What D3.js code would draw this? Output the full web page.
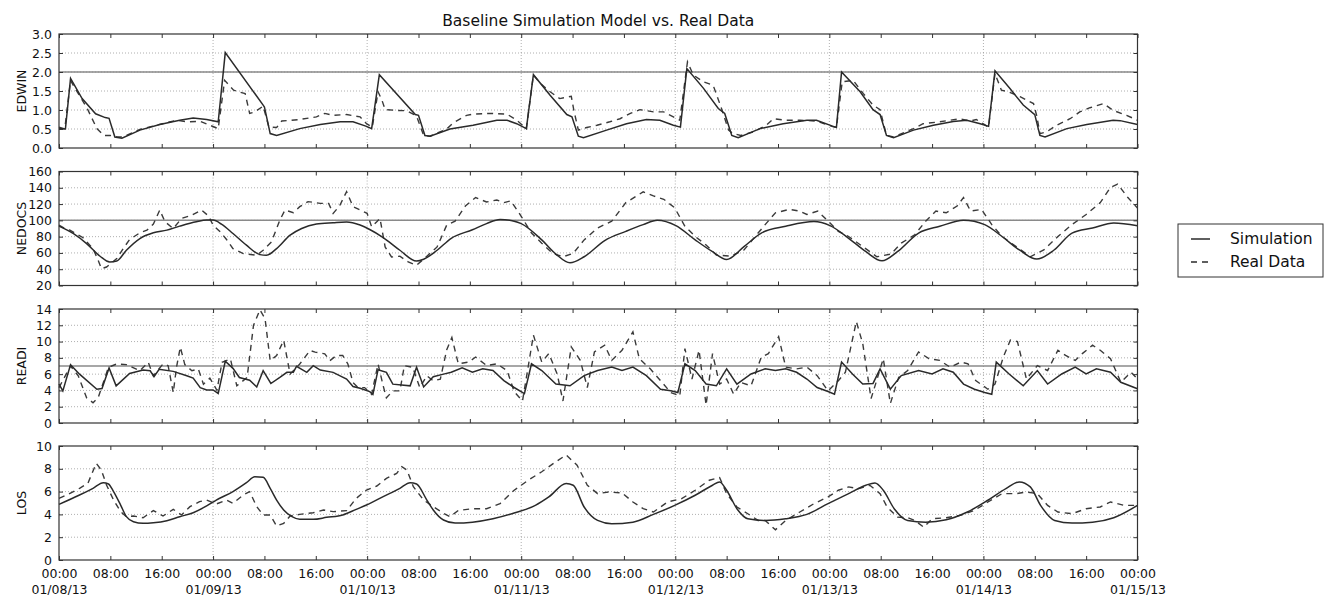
<!DOCTYPE html>
<html>
<head>
<meta charset="utf-8">
<script src="https://cdn.jsdelivr.net/npm/d3@7"></script>
<style>
body { margin: 0; background: #fff; }
text { font-family: "DejaVu Sans", sans-serif; fill: #111; }
</style>
</head>
<body>
<svg id="chart"></svg>
<script>
// [hour since 01/08/13 00:00, value]
var edwinSim = [[0,0.51],[1,0.5],[1.8,1.83],[3.6,1.30],[5.7,0.9],[7.2,0.8],[7.8,0.78],[8.7,0.29],[9.8,0.26],[12.6,0.47],[15.7,0.62],[18.8,0.73],[20.9,0.79],[23,0.75],[24.8,0.69],
  [25.9,2.51],[31.8,1.13],[32,1.08],[32.9,0.38],[33.9,0.33],[37.5,0.51],[40.7,0.62],[43.8,0.69],[45.8,0.69],[47.9,0.57],[48.7,0.51],
  [49.9,1.93],[55.5,0.88],[56,0.86],[57,0.33],[57.8,0.31],[60.9,0.5],[64.5,0.6],[68.2,0.73],[69.8,0.73],[71.3,0.64],[72.8,0.51],
  [73.9,1.93],[76.5,1.39],[79.1,0.88],[79.9,0.82],[80.9,0.31],[81.7,0.27],[85.3,0.47],[88.4,0.64],[91.5,0.75],[93.6,0.73],[95.7,0.6],[96.8,0.55],
  [97.8,2.09],[100.4,1.57],[102.7,1.04],[103.7,0.91],[104.8,0.33],[105.8,0.27],[109.2,0.51],[112.8,0.64],[116.5,0.73],[118,0.73],[120.6,0.57],[121.1,0.54],
  [121.9,2.0],[124.8,1.48],[126.8,1.01],[127.9,0.88],[128.9,0.33],[130,0.27],[133.1,0.47],[136.2,0.6],[139.3,0.7],[141.4,0.73],[143.5,0.64],[144.8,0.57],
  [145.8,2.03],[148.1,1.57],[150.2,1.13],[152,0.88],[152.8,0.33],[153.6,0.29],[157,0.51],[160.1,0.62],[164.2,0.73],[165.3,0.72],[168,0.62]];
var edwinReal = [[0,0.55],[0.9,0.5],[1.8,1.78],[2.4,1.6],[4.4,1.04],[5.9,0.51],[7,0.33],[8,0.33],[9,0.29],[10,0.29],[12.6,0.49],[15.2,0.6],[18.3,0.73],[19.9,0.69],[22,0.7],[24.8,0.51],
  [25.8,1.78],[27.2,1.52],[29,1.43],[29.7,0.91],[30.5,0.95],[31.8,1.1],[32.7,0.55],[33.9,0.54],[34.7,0.71],[37.5,0.75],[40.1,0.82],[41.4,0.91],[42.7,0.86],[44.8,0.88],[46.9,0.82],[47.9,0.64],[48.8,0.55],
  [49.7,1.48],[50.3,1.26],[50.8,1.01],[52.6,0.99],[54.2,0.98],[55.7,0.84],[56.8,0.33],[57.8,0.31],[60.4,0.5],[61.4,0.66],[63.5,0.86],[64.5,0.89],[67.2,0.91],[69.8,0.89],[71.3,0.73],[72.8,0.51],
  [73.9,1.92],[75,1.7],[76.5,1.48],[78,1.3],[79.8,1.36],[80.2,0.99],[80.9,0.47],[82.2,0.54],[83.8,0.6],[85.8,0.69],[87.4,0.77],[89,0.91],[90.5,1.01],[92.6,0.95],[94.2,0.95],[95.7,0.82],[96.7,0.73],
  [97.9,2.27],[98.8,1.92],[100.4,1.74],[101.9,1.65],[103.2,1.04],[104.3,0.47],[105,0.38],[106.2,0.33],[108.1,0.42],[110.2,0.6],[111.3,0.77],[113.3,0.73],[115.4,0.73],[118,0.71],[120.4,0.57],[121.1,0.54],
  [122,1.74],[123.7,1.78],[125.3,1.43],[126.8,1.13],[127.9,1.01],[128.9,0.33],[130,0.29],[133.1,0.51],[134.6,0.64],[137.2,0.69],[140.3,0.77],[141.9,0.71],[142.9,0.75],[144.8,0.55],
  [145.8,1.96],[146.8,1.52],[147.9,1.48],[149.7,1.35],[151.8,1.17],[152.3,0.85],[152.8,0.38],[153.8,0.42],[155.4,0.6],[157.5,0.77],[159,0.95],[160.6,1.06],[162.7,1.17],[164.2,0.99],[166.3,0.86],[168,0.73]];

var nedocsSim = [[0,93],[2.2,83.9],[4.3,71.5],[6.4,55.9],[7.9,48.9],[9,50.1],[10.5,63.3],[12.6,77.7],[14.7,84.7],[16.8,88],[18.8,92.9],[21.4,98.3],[23,100.3],[24,100.3],[25.3,95.4],[27.1,83.9],[29.2,69.5],[31.3,57.9],[32.3,57.1],[33.9,65.3],[36,81.8],[37.8,90],[40.1,95.4],[42.7,97],[44.8,97.9],[46.9,94.2],[48.4,88.8],[50.5,78.9],[53.1,63.3],[55.7,50],[56.8,52.2],[58.9,63.3],[61.1,78],[64.4,88.5],[66.6,96],[68.7,101],[70.9,99],[72,96],
  [75.2,76],[77.4,58.6],[79.6,47.8],[81.8,55.3],[85,75.2],[88.3,86.5],[91,94.8],[93.2,100.2],[96.1,93.5],
  [99.1,76],[101.8,61.5],[104,52],[106.7,67.8],[109.4,84.4],[113.2,92.7],[117.6,98.5],[120.1,93.5],
  [123,78],[125.7,61.5],[128.2,50.3],[130.6,61.5],[133.9,84.4],[137.2,92.7],[140.9,100.2],[144.2,94.8],
  [146.9,80.2],[149.6,63.6],[152.3,52.4],[155,63.6],[157.8,84.4],[161,90.6],[164.3,96.9],[168,93.5]];
var nedocsReal = [[0,94.2],[0.9,90],[1.7,88],[3.7,79],[5.3,65.3],[6.1,51],[6.6,40.7],[7.4,42.7],[9,53],[10,65.3],[11,76.5],[12.6,84.7],[13.7,88],[14.7,95.4],[15.7,112.7],[16.5,98.3],[17.8,90],[19.1,102.4],[20.7,106.5],[22.2,112.7],[23.3,105.3],[24,94.2],[25.1,86],[26.1,76.5],[27.1,65.3],[28.7,59.2],[30.8,57.1],[31.8,63.3],[33.1,73.6],[34.4,100.3],[35.2,112.7],[36.5,109.4],[37.5,116.8],[38.8,123],[40.7,120.9],[42,120.9],[42.7,108.6],[43.7,117.6],[44.8,135.3],[45.8,116.8],[46.9,112.7],[48,108.6],[48.7,92.1],[49.5,98.3],[50,102.4],[50.8,67.4],[51.8,55],[53.1,55.9],[54.4,48.9],[55.7,44.8],[57.3,55.9],[58.9,67.4],[60.4,94.2],
  [61.7,99],[63.3,117.6],[64.9,128],[66.6,122.6],[68.2,125],[69.3,121.8],[70.4,123.9],[72,105],[73.6,84.4],[75.2,72],[76.9,59.5],[78.5,55.3],[80.1,59.5],[81.8,76],[83.9,90.6],[86.1,99],[88.3,121.8],[91,135],[92.6,130],[94.2,125.9],[95.9,115.5],[97.5,92.7],[99.1,80.2],[100.8,69.8],[102.4,57.4],[104.6,56],[106.7,63.6],[108.9,84.4],[110,94.8],[111.6,109.3],[113.8,113.5],[115.4,111.4],[116.5,107.2],[118.2,111.4],[119.8,99],[121.4,86.5],[123,80.2],[125.2,67.8],[127.4,55.3],[129.6,58.6],[131.2,72],[133.3,82.3],[135,99],[136.6,111.4],[138.2,109.3],[139.9,117.6],[140.9,128],[142,111.4],[143.7,113.5],[145.3,94.8],[146.9,80.2],[149.1,67.8],[151.3,55.3],[153.4,63.6],[155.6,80.2],[157.8,94.8],[160,107.2],[162.2,121.8],[163.8,140.5],[164.9,144.6],[166.5,128],[168,115]];

var readiSim = [[0,4.77],[0.6,3.94],[1.8,7.17],[3.2,6.0],[5.9,4.14],[6.7,4.23],[7.8,6.75],[8.9,4.56],[11,6.09],[13.1,6.5],[14.2,6.42],[14.8,5.68],[15.6,6.59],[17.8,6.34],[19.9,5.8],[20.9,5.51],[22,4.35],[23,4.06],[24,4.06],[24.8,3.61],[25.9,7.58],[27.1,6.71],[28.1,5.59],[29.7,5.26],[30.8,4.43],[31.8,6.42],[33,4.85],[34.4,5.59],[35.5,6.22],[36.5,6.22],[37,6.96],[38.6,6.22],[39.6,7.04],[40.7,6.5],[42.7,6.22],[44.8,5.39],[45.8,4.48],[46.9,4.27],[48.4,3.86],[48.9,3.52],[49.7,6.55],[51,6.22],[52,4.77],[54.7,4.56],[55.7,6.84],[56.8,4.43],[58.3,5.68],[59.9,6.0],[61.1,6.23],[62.8,6.77],[64.4,6.23],[66,6.65],[67.6,6.44],[69.3,5.2],[70.9,4.36],[72.5,3.61],[73.6,7.27],[75.2,6.44],[77.4,4.78],[79.6,4.57],[81.8,5.82],[83.9,6.44],[86.1,6.86],[87.7,6.44],[89.4,6.86],[91.5,5.82],[93.7,4.15],[95.3,3.95],[96.4,3.74],[97.5,7.27],[99.1,6.44],[100.8,4.78],[102.4,4.57],[104,6.65],[105.6,4.78],[107.8,6.02],[110,6.65],[111.6,6.44],[113.2,6.65],[114.9,6.23],[116.5,5.4],[118.1,4.36],[119.8,3.86],[120.8,3.53],[121.9,7.48],[123.6,6.02],[125.2,4.78],[126.8,4.86],[127.9,6.65],[129.5,4.15],[131.2,5.82],[133.9,6.44],[136,6.02],[137.7,6.65],[139.3,6.23],[140.9,4.78],[142.6,4.15],[144.2,3.74],[145.3,3.53],[146,7.48],[148,6.02],[150.2,4.57],[152.4,6.44],[154,4.78],[156.2,6.02],[158.3,6.86],[160,6.02],[161.6,6.65],[163.8,6.23],[165.4,5.0],[168,4.2]];
var readiReal = [[0,4.35],[1.8,7.0],[3,5.8],[4.3,3.1],[5.3,2.49],[6.1,3.1],[7.7,6.84],[9,7.25],[10.5,7.17],[12.6,6.42],[13.9,7.46],[14.7,5.8],[16.2,7.25],[17,7.04],[17.8,3.73],[18.3,6.84],[18.9,9.32],[19.6,7.17],[20.7,6.42],[21.7,6.63],[22.5,4.77],[23.5,5.51],[24.6,4.02],[25.4,7.46],[26.7,7.87],[27.7,4.56],[29.3,5.59],[30.3,12.0],[31.3,13.9],[32.1,12.8],[32.9,7.66],[33.9,8.29],[35,10.15],[36,6.0],[37.5,7.25],[39.1,8.91],[39.9,8.7],[41.4,8.49],[42.2,7.66],[43.2,8.29],[44.2,8.29],[45,7.25],[45.8,4.97],[46.6,4.35],[47.6,4.35],[48.7,3.52],[49.7,7.25],[50.5,4.56],[51,3.1],[52,3.94],[53.1,3.94],[53.8,7.04],[55.1,6.84],[56.2,4.35],[57.3,5.8],[58.3,5.18],[59.4,5.39],[60.4,9.0],[61.2,10.5],[62.2,7.27],[63.8,7.48],[64.9,8.1],[66.6,7.06],[68.2,7.27],[69.8,6.44],[70.9,3.86],[72.2,2.7],[73.9,10.8],[75.2,7.48],[76.3,8.52],[77.6,6.02],[78.5,2.7],[79.8,9.35],[81.2,7.69],[82.3,4.36],[83.4,8.72],[85,9.55],[86.1,7.69],[87.7,8.93],[89.4,11.2],[90.4,7.9],[92.1,6.65],[93.7,5.2],[95.3,3.74],[96.7,3.32],[97.5,9.14],[98.6,5.4],[99.7,8.93],[100.8,2.2],[101.8,8.52],[102.9,4.78],[104,5.4],[105.1,3.53],[106.2,4.98],[107.8,4.57],[109.4,8.1],[110.5,8.52],[112.1,10.6],[113.2,6.86],[114.9,6.65],[116.5,6.86],[118.1,5.82],[119.8,3.95],[121.4,5.2],[122.5,6.23],[124.2,12.46],[125.2,9.76],[126.5,3.0],[127.6,5.82],[128.4,7.9],[129.5,2.4],[130.8,5.6],[132.2,6.44],[133.9,8.72],[135.5,7.9],[137.2,7.69],[138.8,6.86],[140.5,7.48],[141.6,7.27],[142.8,5.2],[144.7,4.15],[145.8,4.78],[147.1,8.1],[148.2,10.2],[149.3,10.0],[150.7,5.4],[152.4,7.06],[154,6.44],[155.6,8.93],[156.8,8.3],[158.3,7.69],[159.4,8.52],[161,9.55],[162.2,8.93],[163.8,7.9],[165.4,5.0],[167,6.23],[168,5.4]];

var losSim = [[0,4.88],[3.2,5.7],[5.3,6.29],[6.9,6.78],[7.7,6.67],[8.5,6.0],[9.6,4.82],[10.5,3.8],[11.6,3.36],[13.1,3.22],[14.7,3.27],[16.8,3.45],[18.8,3.8],[20.9,4.15],[23,4.74],[24.5,5.26],[27.1,6.0],[29.2,6.78],[30.5,7.31],[31.8,7.25],[32.9,6.29],[33.9,5.26],[35,4.39],[36.3,3.8],[37.5,3.57],[39.6,3.57],[41.7,3.74],[44.2,3.95],[46.3,4.44],[47.9,4.82],[50.5,5.56],[53.1,6.29],[54.7,6.78],[55.7,6.67],[57.3,5.26],[58.3,4.39],[59.9,3.51],[61.7,3.24],[64.4,3.32],[67.6,3.62],[70.9,4.12],[74.2,4.79],[76.3,5.53],[79,6.71],[80.1,6.56],[81.8,4.65],[83.9,3.47],[86.1,3.18],[89.4,3.32],[92.6,4.0],[95.9,4.79],[99.1,5.68],[101.8,6.56],[102.9,6.85],[104,6.12],[105.6,4.5],[107.3,3.62],[110,3.47],[113.2,3.62],[116.5,4.0],[119.8,4.94],[123,5.82],[125.7,6.56],[127.1,6.76],[128.4,6.12],[130.1,4.5],[132.2,3.47],[135,3.32],[138.2,3.53],[141.5,4.21],[144.7,5.24],[147.5,6.26],[149.6,6.85],[151.3,6.41],[152.9,4.79],[155.1,3.47],[157.8,3.24],[161,3.32],[164.3,3.71],[168,4.79]];
var losReal = [[0,5.41],[1.2,5.7],[3.2,6.29],[4.5,6.73],[5.8,8.48],[6.6,7.89],[7.4,6.58],[8.5,5.26],[9.6,4.24],[10.5,3.8],[11.6,3.86],[13.1,3.71],[14.7,4.33],[16.2,3.86],[17.8,4.44],[19.1,3.95],[20.4,4.68],[21.9,5.12],[23,5.26],[24.5,4.91],[26.1,5.26],[27.1,4.97],[28.7,5.7],[29.7,6.0],[30.8,4.68],[31.8,3.95],[32.9,3.95],[33.9,2.98],[35,3.22],[36,3.86],[37.5,4.0],[39.6,4.15],[41.2,4.39],[42.7,4.24],[44.8,4.33],[46.3,5.41],[47.9,6.14],[49.5,6.49],[51,7.16],[52.6,7.6],[53.4,8.19],[54.2,7.89],[55.2,6.43],[56.8,5.26],[58.3,4.68],[59.9,4.09],[60.9,3.8],[62.2,4.35],[64.4,4.5],[66.6,4.5],[68.7,4.94],[70.9,6.12],[73.1,7.0],[75.2,7.74],[77.4,8.62],[79,9.21],[80.7,8.32],[82.3,6.56],[83.9,5.82],[85.6,5.97],[87.7,5.88],[89.4,5.09],[91,4.5],[92.6,4.21],[94.8,5.09],[97,5.38],[99.1,6.12],[101.3,7.0],[102.9,7.24],[104,5.82],[105.6,4.65],[107.3,4.06],[108.9,3.47],[110,3.47],[111.6,2.65],[113.2,3.47],[115.4,4.21],[117.6,4.94],[119.8,5.53],[121.4,6.12],[123,6.41],[124.6,6.26],[126.3,6.56],[127.9,5.82],[129,4.65],[130.6,3.76],[132.2,3.71],[133.3,3.47],[134.7,2.88],[136,3.62],[138.2,3.71],[140.4,3.91],[142.6,4.35],[144.7,5.09],[146.9,5.82],[149.1,5.82],[150.7,5.97],[152.4,5.82],[154,4.79],[155.6,4.21],[157.8,4.06],[160,4.5],[162.2,4.65],[163.8,5.09],[165.9,4.79],[168,4.79]];

var panelNames = ['EDWIN', 'NEDOCS', 'READI', 'LOS'];
var yDomains = [[0, 3], [20, 160], [0, 14], [0, 10]];
var yTicks = [[0, 0.5, 1, 1.5, 2, 2.5, 3], [20, 40, 60, 80, 100, 120, 140, 160], [0, 2, 4, 6, 8, 10, 12, 14], [0, 2, 4, 6, 8, 10]];
var yFormats = ['.1f', 'd', 'd', 'd'];
var thresholds = [2, 100, 7, null];
var simSeries = [edwinSim, nedocsSim, readiSim, losSim];
var realSeries = [edwinReal, nedocsReal, readiReal, losReal];
var smoothSim = [false, true, false, true];
var legendLabels = ['Simulation', 'Real Data'];

var W = 1330, H = 595;
var left = 59, right = 1137.5;
var panelTop = [34, 171.5, 309, 446], panelH = 114;
var t0 = new Date(2013, 0, 8), t1 = new Date(2013, 0, 15);

var svg = d3.select('#chart').attr('width', W).attr('height', H);

var x = d3.scaleTime().domain([t0, t1]).range([left, right]);
var dayTicks = d3.timeDay.range(t0, new Date(2013, 0, 15, 1));
var hourTicks = d3.timeHour.every(8).range(t0, new Date(2013, 0, 15, 1));

function toDate(h) { return new Date(t0.getTime() + h * 3600000); }

svg.append('text')
  .attr('x', (left + right) / 2).attr('y', 26)
  .attr('text-anchor', 'middle')
  .style('font-size', '15.5px')
  .text('Baseline Simulation Model vs. Real Data');

panelNames.forEach(function (name, i) {
  var top = panelTop[i];
  var y = d3.scaleLinear().domain(yDomains[i]).range([top + panelH, top]);
  var g = svg.append('g');

  // dotted grid
  g.selectAll('.hg').data(yTicks[i].slice(1, -1)).enter().append('line')
    .attr('x1', left).attr('x2', right)
    .attr('y1', function (d) { return y(d); }).attr('y2', function (d) { return y(d); })
    .attr('stroke', '#9a9a9a').attr('stroke-width', 0.8).attr('stroke-dasharray', '1,2');
  g.selectAll('.vg').data(dayTicks.slice(1, -1)).enter().append('line')
    .attr('x1', function (d) { return x(d); }).attr('x2', function (d) { return x(d); })
    .attr('y1', top).attr('y2', top + panelH)
    .attr('stroke', '#9a9a9a').attr('stroke-width', 0.8).attr('stroke-dasharray', '1,2');

  if (thresholds[i] !== null) {
    g.append('line')
      .attr('x1', left).attr('x2', right)
      .attr('y1', y(thresholds[i])).attr('y2', y(thresholds[i]))
      .attr('stroke', '#8a8a8a').attr('stroke-width', 1.5);
  }

  var line = d3.line()
    .x(function (d) { return x(toDate(d[0])); })
    .y(function (d) { return y(d[1]); });
  var simLine = d3.line()
    .x(function (d) { return x(toDate(d[0])); })
    .y(function (d) { return y(d[1]); })
    .curve(smoothSim[i] ? d3.curveMonotoneX : d3.curveLinear);

  g.append('path').datum(realSeries[i])
    .attr('d', line).attr('fill', 'none')
    .attr('stroke', '#3a3a3a').attr('stroke-width', 1.4).attr('stroke-dasharray', '6,5');
  g.append('path').datum(simSeries[i])
    .attr('d', simLine).attr('fill', 'none')
    .attr('stroke', '#2a2a2a').attr('stroke-width', 1.5);

  // axes with inward ticks
  var ya = g.append('g').attr('transform', 'translate(' + left + ',0)')
    .call(d3.axisLeft(y).tickValues(yTicks[i]).tickFormat(d3.format(yFormats[i]))
      .tickSizeInner(-4).tickSizeOuter(0).tickPadding(7));
  var yb = g.append('g').attr('transform', 'translate(' + right + ',0)')
    .call(d3.axisRight(y).tickValues(yTicks[i]).tickFormat('').tickSizeInner(-4).tickSizeOuter(0));
  var xt = g.append('g').attr('transform', 'translate(0,' + top + ')')
    .call(d3.axisTop(x).tickValues(hourTicks).tickFormat('').tickSizeInner(-4).tickSizeOuter(0));
  var xb = g.append('g').attr('transform', 'translate(0,' + (top + panelH) + ')')
    .call(d3.axisBottom(x).tickValues(hourTicks).tickFormat(i === 3 ? d3.timeFormat('%H:%M') : '')
      .tickSizeInner(-4).tickSizeOuter(0).tickPadding(9));

  [ya, yb, xt, xb].forEach(function (a) {
    a.select('.domain').remove();
    a.selectAll('.tick line').attr('stroke', '#333');
    a.selectAll('text').style('font-size', '12.5px').attr('fill', '#111').style('font-family', '"DejaVu Sans", sans-serif');
  });

  if (i === 3) {
    xb.selectAll('.tick text')
      .filter(function (d) { return d.getHours() === 0; })
      .append('tspan').attr('x', 0).attr('dy', '1.25em')
      .text(function (d) { return d3.timeFormat('%m/%d/%y')(d); });
  }

  g.append('rect')
    .attr('x', left).attr('y', top)
    .attr('width', right - left).attr('height', panelH)
    .attr('fill', 'none').attr('stroke', '#333').attr('stroke-width', 1.2);

  g.append('text')
    .attr('transform', 'translate(21,' + (top + panelH / 2) + ') rotate(-90)')
    .attr('text-anchor', 'middle').attr('dominant-baseline', 'central')
    .style('font-size', '12.5px')
    .text(name);
});

// legend
var lg = svg.append('g').attr('transform', 'translate(1178,224)');
lg.append('rect').attr('width', 145).attr('height', 53)
  .attr('fill', '#fff').attr('stroke', '#333').attr('stroke-width', 1);
legendLabels.forEach(function (lab, k) {
  var ly = 15 + k * 23;
  lg.append('line').attr('x1', 13).attr('x2', 32).attr('y1', ly).attr('y2', ly)
    .attr('stroke', '#2a2a2a').attr('stroke-width', 1.5)
    .attr('stroke-dasharray', k === 1 ? '6,5' : null);
  lg.append('text').attr('x', 52).attr('y', ly)
    .attr('dominant-baseline', 'central')
    .style('font-size', '15.5px')
    .text(lab);
});
</script>
</body>
</html>
